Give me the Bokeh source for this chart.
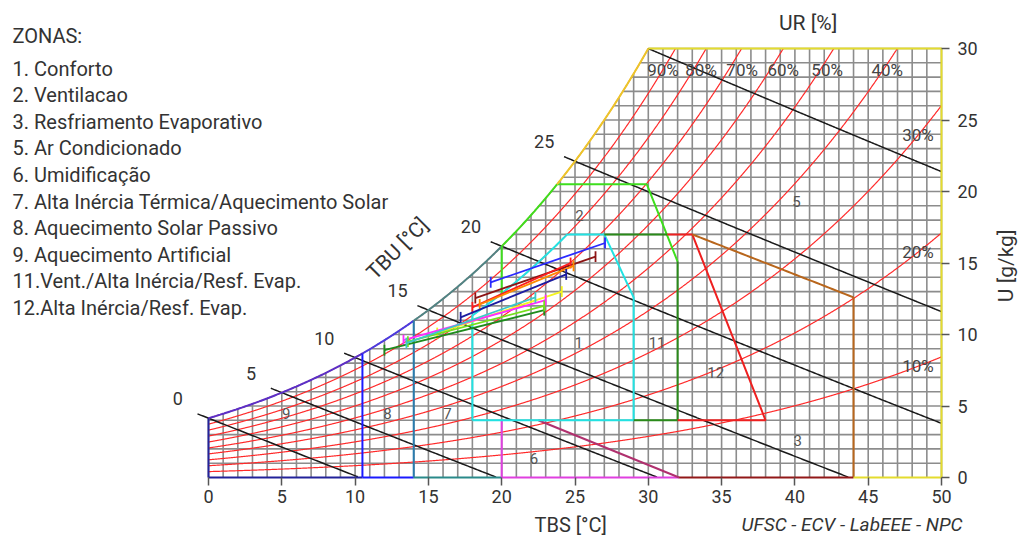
import numpy as np
from bokeh.plotting import figure
from bokeh.models import Range1d, LinearAxis, FixedTicker
from bokeh.embed import file_html
from bokeh.resources import INLINE
from bokeh.core.properties import value

# ------------------------------------------------------------------ data
ATM_PRESSURE_PA = 92300.0          # chart barometric pressure
TBS_TICKS = list(range(0, 51, 5))  # dry bulb [°C]
U_TICKS = list(range(0, 31, 5))    # humidity ratio [g/kg]
RH_LEVELS = [10, 20, 30, 40, 50, 60, 70, 80, 90]
TBU_LEVELS = [0, 5, 10, 15, 20, 25, 30]
TBU_LABELLED = [0, 5, 10, 15, 20, 25]
RH_TOP_LABELS = ["90%", "80%", "70%", "60%", "50%", "40%"]
RH_TOP_X = [31.0, 33.6, 36.4, 39.2, 42.2, 46.3]
RH_SIDE_LABELS = ["30%", "20%", "10%"]
RH_SIDE_LEVELS = [30, 20, 10]

LEGEND_LINES = [
    "ZONAS:",
    "1. Conforto",
    "2. Ventilacao",
    "3. Resfriamento Evaporativo",
    "5. Ar Condicionado",
    "6. Umidificação",
    "7. Alta Inércia Térmica/Aquecimento Solar",
    "8. Aquecimento Solar Passivo",
    "9. Aquecimento Artificial",
    "11.Vent./Alta Inércia/Resf. Evap.",
    "12.Alta Inércia/Resf. Evap.",
]

ZONE_NUMBERS = ["1", "2", "3", "5", "6", "7", "8", "9", "11", "12"]
ZONE_NUM_TBS = [25.25, 25.3, 40.2, 40.1, 22.2, 16.3, 12.2, 5.3, 30.6, 34.6]
ZONE_NUM_U = [9.45, 18.3, 2.6, 19.3, 1.3, 4.5, 4.5, 4.5, 9.45, 7.35]

# zone limits (TBS °C / U g/kg)
Z9_TBS = [0.0, 10.5]
Z8_TBS = [10.5, 14.0]
Z7_TBS = [14.0, 20.0]
Z6_TBS = [20.0, 22.5, 32.1]
Z6_U = [4.0]
Z1_TBS = [18.0, 27.0, 29.0]
Z1_U = [4.0, 12.6, 17.0]
Z1_RH = 80
Z2_TBS = [20.0, 29.9, 32.0]
Z2_U = [20.5, 15.1]
Z11_TBS = [27.0, 31.3, 32.0, 29.0]
Z11_U = [17.0, 15.1, 4.0]
Z12_TBS = [31.3, 33.0, 38.0, 32.0]
Z12_U = [17.0, 4.0]
Z3_TBS = [33.0, 44.0, 32.1]
Z3_U = [17.0, 12.6]
Z5_TBS = [44.0, 50.0]

# climate lines (monthly ranges) : start / end points
CLIM_COLORS = ["#2a2aff", "#8c1414", "#ff1c1c", "#ff8800", "#1c1ca0",
               "#f4f420", "#ff2cff", "#1e8c1e", "#74e01c", "#3cc8c8"]
CLIM_TBS_A = [19.25, 18.2, 18.0, 18.5, 17.2, 15.6, 13.3, 12.0, 13.6, 13.5]
CLIM_U_A = [13.65, 12.55, 11.9, 12.1, 11.2, 10.1, 9.6, 8.9, 9.5, 9.4]
CLIM_TBS_B = [27.05, 26.4, 24.7, 24.9, 24.4, 24.1, 23.0, 22.9, 22.9, 22.3]
CLIM_U_B = [16.4, 15.45, 15.0, 14.8, 14.2, 13.0, 12.4, 11.7, 12.0, 12.6]

# ------------------------------------------------------------------ psychrometrics
def pws(t):
    T = np.asarray(t, dtype=float) + 273.15
    return np.exp(-5.8002206e3 / T + 1.3914993 - 4.8640239e-2 * T
                  + 4.1764768e-5 * T ** 2 - 1.4452093e-8 * T ** 3
                  + 6.5459673 * np.log(T))


def w_rh(t, rh):
    pw = rh * pws(t)
    return 622.0 * pw / (ATM_PRESSURE_PA - pw)


def w_wb(t, twb):
    ws = w_rh(twb, 1.0) / 1000.0
    t = np.asarray(t, dtype=float)
    return 1000.0 * ((2501 - 2.326 * twb) * ws - 1.006 * (t - twb)) / (2501 + 1.86 * t - 4.186 * twb)


T_FINE = np.linspace(0, 50, 2001)
W_SAT = w_rh(T_FINE, 1.0)


def t_on_curve(w, rh=1.0):
    return float(np.interp(w, w_rh(T_FINE, rh), T_FINE))


def curve(t0, t1, rh=1.0, n=80):
    t = np.linspace(t0, t1, n)
    return list(t), list(w_rh(t, rh))


T_TOP = t_on_curve(30.0)

# ------------------------------------------------------------------ figure
FONT = "Roboto"
PX_X, PX_Y = 14.66, 14.3          # pixels per unit
FW, FH = 1020, 538
X0 = -208 / PX_X
Y1 = 477 / PX_Y

p = figure(frame_width=FW, frame_height=FH,
           x_range=Range1d(X0, X0 + FW / PX_X), y_range=Range1d(Y1 - FH / PX_Y, Y1),
           x_axis_location=None, y_axis_location=None,
           output_backend="svg", toolbar_location=None,
           min_border_left=0, min_border_top=0, min_border_right=0, min_border_bottom=0)
p.outline_line_color = None
p.background_fill_color = "white"
p.border_fill_color = "white"
p.xgrid.visible = False
p.ygrid.visible = False

xaxis = LinearAxis(ticker=FixedTicker(ticks=TBS_TICKS), bounds=(0, 50), fixed_location=0)
yaxis = LinearAxis(ticker=FixedTicker(ticks=U_TICKS), bounds=(0, 30), fixed_location=50)
for ax in (xaxis, yaxis):
    ax.axis_line_color = None
    ax.major_tick_line_color = "#555555"
    ax.major_tick_line_width = 1.5
    ax.major_tick_out = 8
    ax.major_tick_in = 0
    ax.minor_tick_line_color = None
    ax.major_label_text_font = FONT
    ax.major_label_text_font_size = "18px"
    ax.major_label_text_color = "#333333"
xaxis.major_label_standoff = 4
yaxis.major_label_standoff = 8

# grid under saturation curve
gx, gy = [], []
for x in range(0, 51):
    gx.append([x, x]); gy.append([0, min(float(w_rh(x, 1.0)), 30.0)])
for y in range(1, 31):
    gx.append([t_on_curve(y) if y > W_SAT[0] else 0.0, 50]); gy.append([y, y])
p.multi_line(gx, gy, line_color="#8c8c8c", line_width=1.6)

# relative humidity curves
rx, ry = [], []
for rh in RH_LEVELS + [100]:
    t = T_FINE
    w = w_rh(t, rh / 100.0)
    m = w <= 30.0
    rx.append(list(t[m])); ry.append(list(w[m]))
p.multi_line(rx, ry, line_color="#ff2a2a", line_width=1.2)

# wet bulb lines
bx, by = [], []
lab_x, lab_y, lab_t = [], [], []
for twb in TBU_LEVELS:
    t0 = twb - 0.75
    if w_wb(t0, twb) > 30:
        t0 = twb
    t = np.linspace(t0, 50, 400)
    w = w_wb(t, twb)
    m = w >= 0
    bx.append(list(t[m])); by.append(list(w[m]))
    if twb in TBU_LABELLED:
        lab_x.append(t0 - 1.35); lab_y.append(float(w_wb(t0, twb)) + 1.05); lab_t.append(str(twb))
p.multi_line(bx, by, line_color="#1a1a1a", line_width=1.5)
p.text(lab_x, lab_y, text=lab_t, text_font=value(FONT), text_font_size="18px",
       text_color="#333333", text_align="center", text_baseline="middle")

# ------------------------------------------------------------------ zones
def seg(xs, ys, color, w=2.0):
    p.line(xs, ys, line_color=color, line_width=w)

# zone 9
seg([0, 0], [0, float(w_rh(0, 1))], "#22229a")
seg([Z9_TBS[0], Z9_TBS[1]], [0, 0], "#22229a")
seg(*curve(Z9_TBS[0], Z9_TBS[1]), "#5a30c8")
# zone 8
seg([Z8_TBS[0]] * 2, [0, float(w_rh(Z8_TBS[0], 1))], "#1a1aff")
seg([Z8_TBS[0], Z8_TBS[1]], [0, 0], "#1a1aff")
seg(*curve(Z8_TBS[0], Z8_TBS[1]), "#4a3ce0")
seg([Z8_TBS[1]] * 2, [0, float(w_rh(Z8_TBS[1], 1))], "#2a7cae")
# zone 7
seg([Z7_TBS[0], Z7_TBS[1]], [0, 0], "#2a8a8a")
seg(*curve(Z7_TBS[0], Z7_TBS[1]), "#4f8585")
# zone 6
seg([Z6_TBS[0]] * 2, [0, Z6_U[0]], "#e040e0")
seg([Z6_TBS[0], Z6_TBS[2]], [0, 0], "#e040e0")
seg([Z6_TBS[1], Z6_TBS[2]], [Z6_U[0], 0], "#b0306e")
# zone 1 (comfort)
t80_top = t_on_curve(Z1_U[2], Z1_RH / 100.0)
cx, cy = curve(Z1_TBS[0], t80_top, Z1_RH / 100.0)
z1x = [Z1_TBS[0], Z1_TBS[0]] + cx + [Z1_TBS[1], Z1_TBS[2], Z1_TBS[2], Z1_TBS[0]]
z1y = [Z1_U[0], cy[0]] + cy + [Z1_U[2], Z1_U[1], Z1_U[0], Z1_U[0]]
seg(z1x, z1y, "#22e2e2")
# zone 2 (ventilation)
t_sat_top = t_on_curve(Z2_U[0])
sx, sy = curve(Z2_TBS[0], t_sat_top)
seg([Z2_TBS[0], Z2_TBS[0]], [float(w_rh(Z2_TBS[0], Z1_RH / 100.0)), sy[0]], "#3ede1e")
seg(sx, sy, "#3ede1e")
seg([t_sat_top, Z2_TBS[1], Z2_TBS[2]], [Z2_U[0], Z2_U[0], Z2_U[1]], "#3ede1e")
# zone 11
seg([Z11_TBS[0], Z11_TBS[1]], [Z11_U[0], Z11_U[0]], "#2a8a1a")
seg([Z11_TBS[2], Z11_TBS[2], Z11_TBS[3]], [Z11_U[1], Z11_U[2], Z11_U[2]], "#2a8a1a")
# zone 12
seg([Z12_TBS[0], Z12_TBS[1], Z12_TBS[2], Z12_TBS[3]], [Z12_U[0], Z12_U[0], Z12_U[1], Z12_U[1]], "#ee2020")
# zone 3
t3 = np.linspace(Z3_TBS[0], Z3_TBS[1], 40)
w3 = np.interp(t3, [Z3_TBS[0], Z3_TBS[1]], Z3_U)
seg(list(t3), list(w3), "#b8661c")
seg([Z3_TBS[1], Z3_TBS[1]], [Z3_U[1], 0], "#b8661c")
seg([Z3_TBS[2], Z3_TBS[1]], [0, 0], "#921818")
# zone 5
ux, uy = curve(t_sat_top, T_TOP)
seg(ux, uy, "#ecc62a")
seg([T_TOP, 50, 50, Z5_TBS[0]], [30, 30, 0, 0], "#e4dc2e")

# ------------------------------------------------------------------ climate lines
TICK = 0.38
for c, xa, ya, xb, yb in zip(CLIM_COLORS, CLIM_TBS_A, CLIM_U_A, CLIM_TBS_B, CLIM_U_B):
    p.line([xa, xb], [ya, yb], line_color=c, line_width=1.8)
    p.multi_line([[xa, xa], [xb, xb]], [[ya - TICK, ya + TICK], [yb - TICK, yb + TICK]],
                 line_color=c, line_width=1.8)

# axes (drawn at TBS axis y=0 and at x=50)
p.add_layout(xaxis, "below")
p.add_layout(yaxis, "right")

# ------------------------------------------------------------------ texts
def txt(xs, ys, labels, size, color="#333333", align="center", angle=0.0, style="normal"):
    p.text(xs, ys, text=labels, text_font=value(FONT), text_font_size=size,
           text_color=color, text_align=align, text_baseline="middle", angle=angle,
           text_font_style=style)


txt(ZONE_NUM_TBS, ZONE_NUM_U, ZONE_NUMBERS, "15px", "#555555")
rh_side_y = [float(w_rh(48.4, r / 100.0)) for r in RH_SIDE_LEVELS]
txt(RH_TOP_X, [28.5] * len(RH_TOP_X), RH_TOP_LABELS, "17px", "#444444")
txt([48.4] * 3, rh_side_y, RH_SIDE_LABELS, "17px", "#444444")
txt([40.9], [31.8], ["UR [%]"], "21px")
txt([12.9], [16.0], ["TBU [°C]"], "21px", angle=np.pi / 4)
txt([24.7], [-3.3], ["TBS [°C]"], "20px")
txt([43.9], [-3.3], ["UFSC - ECV - LabEEE - NPC"], "19px", style="italic")
txt([54.4], [14.8], ["U [g/kg]"], "21px", angle=np.pi / 2)

# legend
leg_y = [(477 - 35) / PX_Y] + [(477 - (68 + 26.6 * i)) / PX_Y for i in range(len(LEGEND_LINES) - 1)]
txt([X0 + 12 / PX_X] * len(LEGEND_LINES), leg_y, LEGEND_LINES, "20px", align="left")

open("out.html", "w").write(file_html(p, INLINE))
